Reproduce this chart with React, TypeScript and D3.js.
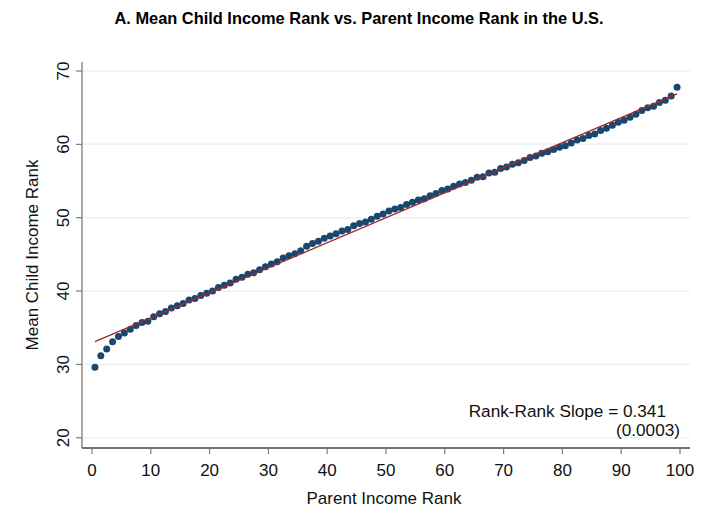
import React from 'react';
import * as d3 from 'd3';

// parent income percentile (bin midpoints)
const parentRank: number[] = d3.range(100).map(i => i + 0.5);

// mean child income rank per parent percentile
const childRank: number[] = [
  29.6, 31.2, 32.1, 33.1, 33.8, 34.3, 34.8, 35.3, 35.7, 35.9,
  36.5, 36.9, 37.2, 37.7, 38.0, 38.3, 38.8, 39.0, 39.4, 39.7,
  40.0, 40.5, 40.8, 41.1, 41.6, 41.9, 42.3, 42.5, 42.9, 43.3,
  43.7, 44.0, 44.5, 44.8, 45.1, 45.5, 46.1, 46.5, 46.8, 47.2,
  47.5, 47.8, 48.2, 48.4, 48.9, 49.2, 49.4, 49.8, 50.2, 50.5,
  50.9, 51.2, 51.4, 51.8, 52.1, 52.4, 52.6, 53.0, 53.3, 53.7,
  53.9, 54.3, 54.6, 54.8, 55.1, 55.5, 55.6, 56.1, 56.2, 56.7,
  56.9, 57.3, 57.5, 57.8, 58.2, 58.4, 58.8, 59.0, 59.3, 59.6,
  59.8, 60.2, 60.6, 60.8, 61.2, 61.4, 61.9, 62.2, 62.6, 63.0,
  63.3, 63.7, 64.1, 64.6, 65.0, 65.2, 65.7, 66.0, 66.6, 67.8,
];

const fitIntercept = 32.95;
const fitSlope = 0.341;

const xTicks: number[] = [0, 10, 20, 30, 40, 50, 60, 70, 80, 90, 100];
const yTicks: number[] = [20, 30, 40, 50, 60, 70];

const font = '"Liberation Sans", Arial, Helvetica, sans-serif';

export default function App() {
  const width = 720;
  const height = 522;

  const x = d3.scaleLinear().domain([0, 100]).range([92, 680]);
  const y = d3.scaleLinear().domain([20, 70]).range([437.8, 71]);

  const axisLeft = 82;
  const axisBottom = 448;
  const plotRight = 690;
  const plotTop = 62;

  const fitLine = d3.line<number>()
    .x(d => x(d))
    .y(d => y(fitIntercept + fitSlope * d));

  return (
    <svg width={width} height={height} style={{ display: 'block', position: 'absolute', left: 0, top: 0, background: '#fff' }}>
      <text x={359} y={24} textAnchor="middle" fontFamily={font} fontWeight="bold" fontSize={16.4} fill="#000">
        A. Mean Child Income Rank vs. Parent Income Rank in the U.S.
      </text>

      {/* gridlines */}
      {yTicks.map(t => (
        <line key={'g' + t} x1={axisLeft} x2={plotRight} y1={y(t)} y2={y(t)} stroke="#eaf2f3" strokeWidth={1.5} />
      ))}

      {/* y axis */}
      <line x1={axisLeft} x2={axisLeft} y1={plotTop} y2={axisBottom} stroke="#7a7a7a" strokeWidth={1.3} />
      {yTicks.map(t => (
        <g key={'y' + t}>
          <line x1={axisLeft - 6} x2={axisLeft} y1={y(t)} y2={y(t)} stroke="#7a7a7a" strokeWidth={1.2} />
          <text transform={`translate(${axisLeft - 13},${y(t)}) rotate(-90)`} textAnchor="middle"
            fontFamily={font} fontSize={17} fill="#111">{t}</text>
        </g>
      ))}
      <text transform={`translate(38,${255}) rotate(-90)`} textAnchor="middle" fontFamily={font} fontSize={17} fill="#111">
        Mean Child Income Rank
      </text>

      {/* x axis */}
      <line x1={axisLeft} x2={plotRight} y1={axisBottom} y2={axisBottom} stroke="#444" strokeWidth={1.3} />
      {xTicks.map(t => (
        <g key={'x' + t}>
          <line x1={x(t)} x2={x(t)} y1={axisBottom} y2={axisBottom + 6} stroke="#7a7a7a" strokeWidth={1.2} />
          <text x={x(t)} y={axisBottom + 28} textAnchor="middle" fontFamily={font} fontSize={17} fill="#111">{t}</text>
        </g>
      ))}
      <text x={384} y={504} textAnchor="middle" fontFamily={font} fontSize={17} fill="#111">
        Parent Income Rank
      </text>

      {/* points */}
      {parentRank.map((p, i) => (
        <circle key={'p' + i} cx={x(p)} cy={y(childRank[i])} r={3.5} fill="#1a476f" />
      ))}

      {/* fitted line */}
      <path d={fitLine([parentRank[0], parentRank[parentRank.length - 1]]) ?? ''} fill="none" stroke="#a1282f" strokeWidth={1.3} />

      {/* annotation */}
      <text x={666} y={416.5} textAnchor="end" fontFamily={font} fontSize={17.2} fill="#111">Rank-Rank Slope = 0.341</text>
      <text x={680} y={436} textAnchor="end" fontFamily={font} fontSize={17.2} fill="#111">(0.0003)</text>
    </svg>
  );
}
